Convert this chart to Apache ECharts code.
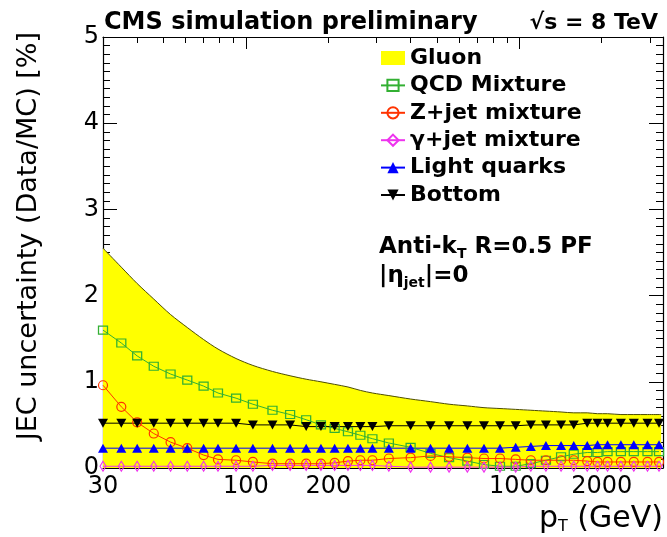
<!DOCTYPE html>
<html>
<head>
<meta charset="utf-8">
<script src="https://cdn.jsdelivr.net/npm/echarts@6/dist/echarts.min.js"></script>
<style>
html, body { margin: 0; padding: 0; background: #ffffff; }
#chart { width: 667px; height: 537px; }
</style>
</head>
<body>
<div id="chart"></div>
<script>
// Jet pT bin positions (GeV) shared by all flavour curves
const ptBins = [30, 35, 40, 46, 53, 61, 70, 79, 92, 106, 125, 145, 166, 188, 211, 236, 262, 290,
  333, 400, 473, 553, 645, 742, 849, 969, 1101, 1250, 1420, 1580, 1770, 1930, 2100, 2350, 2620, 2940, 3240];

// Gluon band upper edge (GeV, %)
const gluonPt  = [30, 35, 40, 46, 53, 61, 70, 79, 92, 106, 125, 145, 166, 188, 211, 236, 262, 290,
  333, 400, 473, 553, 645, 742, 849, 969, 1101, 1250, 1420, 1580, 1770, 1930, 2100, 2350, 2620, 2940, 3300];
const gluonUnc = [2.55, 2.33, 2.14, 1.96, 1.78, 1.63, 1.49, 1.38, 1.27, 1.19, 1.12, 1.07, 1.03, 1.00, 0.97, 0.94, 0.90, 0.87,
  0.84, 0.80, 0.77, 0.74, 0.72, 0.70, 0.69, 0.68, 0.67, 0.66, 0.65, 0.64, 0.64, 0.63, 0.63, 0.62, 0.62, 0.62, 0.62];

// Flavour-mixture uncertainties (%)
const qcdMixture = [1.60, 1.45, 1.30, 1.18, 1.09, 1.02, 0.95, 0.87, 0.81, 0.74, 0.67, 0.62, 0.56, 0.50, 0.46, 0.42, 0.38, 0.34,
  0.29, 0.24, 0.17, 0.12, 0.08, 0.04, 0.02, 0.02, 0.05, 0.09, 0.13, 0.16, 0.18, 0.18, 0.19, 0.19, 0.19, 0.19, 0.19];
const zjetMixture = [0.96, 0.71, 0.53, 0.40, 0.30, 0.23, 0.15, 0.10, 0.09, 0.07, 0.05, 0.05, 0.05, 0.05, 0.06, 0.08, 0.09, 0.09,
  0.11, 0.12, 0.14, 0.13, 0.12, 0.11, 0.11, 0.10, 0.09, 0.09, 0.09, 0.09, 0.08, 0.07, 0.07, 0.07, 0.07, 0.07, 0.07];
const gjetMixture = [0.02, 0.02, 0.02, 0.02, 0.02, 0.02, 0.02, 0.02, 0.02, 0.02, 0.03, 0.03, 0.03, 0.03, 0.03, 0.03, 0.03, 0.03,
  0.02, 0.01, 0.01, 0.01, 0.01, 0.01, 0.01, 0.01, 0.02, 0.02, 0.02, 0.02, 0.02, 0.02, 0.02, 0.02, 0.02, 0.02, 0.02];
const lightQuarks = [0.23, 0.23, 0.23, 0.23, 0.23, 0.23, 0.23, 0.23, 0.23, 0.23, 0.23, 0.23, 0.23, 0.23, 0.23, 0.23, 0.23, 0.23,
  0.23, 0.23, 0.23, 0.23, 0.23, 0.23, 0.23, 0.24, 0.25, 0.26, 0.26, 0.26, 0.26, 0.27, 0.27, 0.27, 0.27, 0.27, 0.27];
const bottomQuarks = [0.52, 0.52, 0.52, 0.52, 0.52, 0.52, 0.52, 0.52, 0.52, 0.50, 0.50, 0.50, 0.48, 0.48, 0.48, 0.48, 0.48, 0.48,
  0.49, 0.49, 0.49, 0.49, 0.49, 0.49, 0.49, 0.49, 0.50, 0.50, 0.50, 0.50, 0.52, 0.52, 0.52, 0.52, 0.52, 0.52, 0.52];

// Axis ticks
const xTickLabels = [30, 100, 200, 1000, 2000];
const xMajorTicks = [100, 1000];
const xMinorTicks = [40, 50, 60, 70, 80, 90, 200, 300, 400, 500, 600, 700, 800, 900, 2000, 3000];
const yTickLabels = [0, 1, 2, 3, 4, 5];

const FONT = '"DejaVu Sans", "Liberation Sans", Arial, sans-serif';
const pairs = (xs, ys) => xs.map((x, i) => [x, ys[i]]);

const chart = echarts.init(document.getElementById('chart'), null, { renderer: 'canvas' });

function xAxisDef(position, ticks, len, withLabels, withLine) {
  return {
    type: 'log', min: 30, max: 3350, position: position, logBase: 10,
    axisLine: { show: withLine, lineStyle: { color: '#000', width: 1.2 } },
    axisTick: { show: true, inside: true, length: len, customValues: ticks, lineStyle: { color: '#000', width: 1 } },
    axisLabel: withLabels ? {
      show: true, customValues: xTickLabels, fontSize: 24, color: '#000', fontFamily: FONT, margin: 7,
      formatter: v => String(Math.round(v))
    } : { show: false },
    splitLine: { show: false }, minorTick: { show: false }, minorSplitLine: { show: false }
  };
}

function yAxisDef(position, withLabels) {
  return {
    type: 'value', min: 0, max: 5, interval: 1, position: position,
    axisLine: { show: true, lineStyle: { color: '#000', width: 1.2 } },
    axisTick: { show: true, inside: true, length: 14, lineStyle: { color: '#000', width: 1 } },
    minorTick: { show: true, splitNumber: 10, length: 7, lineStyle: { color: '#000', width: 1 } },
    axisLabel: withLabels ? {
      show: true, fontSize: 24, color: '#000', fontFamily: FONT, margin: 4,
      formatter: v => yTickLabels.indexOf(v) >= 0 ? String(v) : ''
    } : { show: false },
    splitLine: { show: false }, minorSplitLine: { show: false }
  };
}

// Open markers keep a transparent interior so the band shows through
function markerSeries(name, values, color, symbol, size, filled, extra) {
  return Object.assign({
    name: name, type: 'line', xAxisIndex: 0, yAxisIndex: 0,
    data: pairs(ptBins, values),
    symbol: symbol, symbolSize: size, showAllSymbol: true,
    lineStyle: { color: color, width: 1 },
    itemStyle: { color: filled ? color : 'rgba(0,0,0,0)', borderColor: color, borderWidth: filled ? 0 : 1.2 },
    emphasis: { disabled: true }, z: 5, animation: false
  }, extra || {});
}

chart.setOption({
  animation: false,
  backgroundColor: '#ffffff',
  grid: { left: 103, right: 4, top: 37, bottom: 69, containLabel: false },
  xAxis: [
    xAxisDef('bottom', xMajorTicks, 12, true, true),
    xAxisDef('bottom', xMinorTicks, 6, false, false),
    xAxisDef('top', xMajorTicks, 12, false, true),
    xAxisDef('top', xMinorTicks, 6, false, false)
  ],
  yAxis: [yAxisDef('left', true), yAxisDef('right', false)],
  legend: {
    orient: 'vertical', left: 380, top: 47, padding: 0, itemGap: 5.4, itemWidth: 24, itemHeight: 14,
    textStyle: { fontSize: 22, fontWeight: 'bold', color: '#000', fontFamily: FONT },
    selectedMode: false,
    data: [
      { name: 'Gluon', icon: 'rect', itemStyle: { color: '#ffff00' } },
      'QCD Mixture', 'Z+jet mixture', 'γ+jet mixture', 'Light quarks', 'Bottom'
    ]
  },
  title: [
    { text: 'CMS simulation preliminary', left: 99, top: 6,
      textStyle: { fontSize: 24, fontWeight: 'bold', color: '#000', fontFamily: FONT } },
    { text: '√s = 8 TeV', right: 4, top: 7,
      textStyle: { fontSize: 22, fontWeight: 'bold', color: '#000', fontFamily: FONT } },
    { text: 'Anti-k{sub|T} R=0.5 PF', left: 374, top: 228,
      textStyle: { fontSize: 23, fontWeight: 'bold', color: '#000', fontFamily: FONT,
        rich: { sub: { fontSize: 14, fontWeight: 'bold', fontFamily: FONT, padding: [14, 0, 0, 0] } } } },
    { text: '|η{sub|jet}|=0', left: 374, top: 257,
      textStyle: { fontSize: 23, fontWeight: 'bold', color: '#000', fontFamily: FONT,
        rich: { sub: { fontSize: 14, fontWeight: 'bold', fontFamily: FONT, padding: [14, 0, 0, 0] } } } }
  ],
  graphic: [
    { type: 'text', left: 15, top: 32, rotation: Math.PI / 2,
      style: { text: 'JEC uncertainty (Data/MC) [%]', fontSize: 27, fontFamily: FONT, fill: '#000' } },
    { type: 'text', right: 4, bottom: 2,
      style: { text: '{n|p}{sub|T}{n| (GeV)}', fontFamily: FONT, fill: '#000',
        rich: { n: { fontSize: 30, fontFamily: FONT }, sub: { fontSize: 16, fontFamily: FONT, padding: [16, 0, 0, 0] } } } }
  ],
  series: [
    {
      name: 'Gluon', type: 'line', xAxisIndex: 0, yAxisIndex: 0,
      data: pairs(gluonPt, gluonUnc), symbol: 'none', smooth: 0.3,
      lineStyle: { color: '#4d4d00', width: 1 },
      itemStyle: { color: '#ffff00' },
      areaStyle: { color: '#ffff00', opacity: 1, origin: 'start' },
      emphasis: { disabled: true }, z: 2, animation: false
    },
    markerSeries('QCD Mixture', qcdMixture, '#33b033', 'rect', [9, 8], false),
    markerSeries('Z+jet mixture', zjetMixture, '#ff3300', 'circle', 9, false),
    markerSeries('γ+jet mixture', gjetMixture, '#ee33ee', 'diamond', [6, 10], false),
    markerSeries('Light quarks', lightQuarks, '#0000ff', 'triangle', [10, 9], true),
    markerSeries('Bottom', bottomQuarks, '#000000', 'triangle', [10, 9], true, { symbolRotate: 180 })
  ]
});
</script>
</body>
</html>
